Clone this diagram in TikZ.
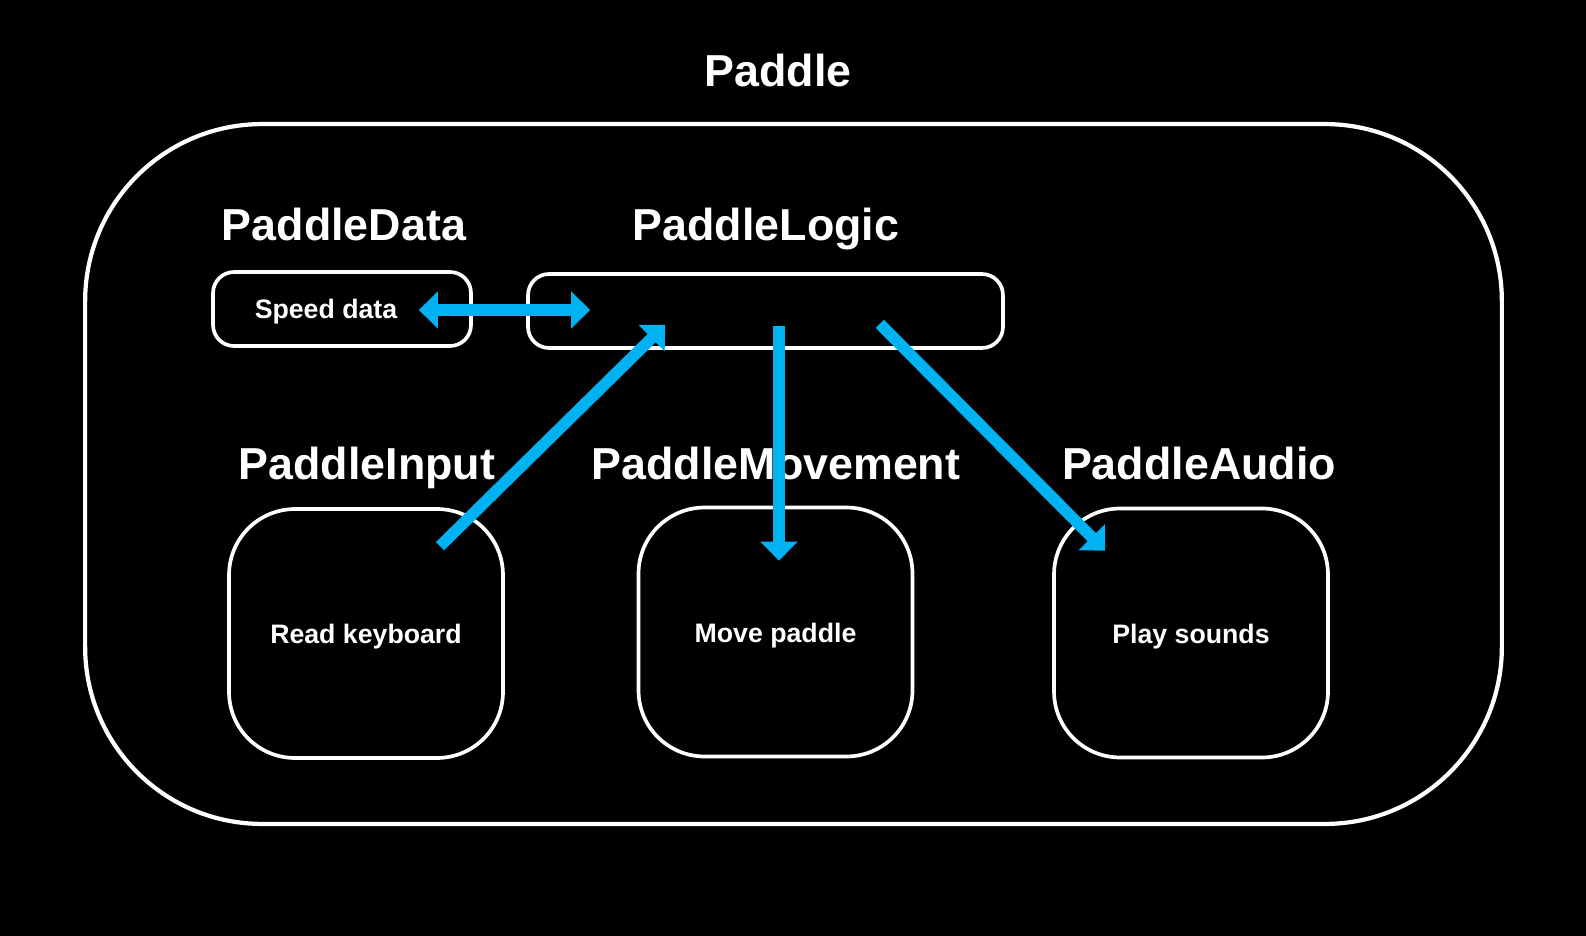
\documentclass[tikz,border=0pt]{standalone}
\usepackage{fontspec}
\setmainfont{Liberation Sans}
\usepackage{tikz}
\usetikzlibrary{arrows.meta,positioning,calc}
\definecolor{cCyan}{HTML}{00B2F2}
\definecolor{cBack}{HTML}{000000}
\definecolor{cEdge}{HTML}{FFFFFF}
\tikzset{
  grp/.style={draw=cEdge,rounded corners=3.54cm,line width=2.4pt,minimum width=28.34cm,minimum height=14cm,inner sep=0pt},
  pbox/.style={draw=cEdge,rounded corners=0.42cm,line width=2.1pt,minimum height=1.48cm,inner sep=0pt},
  mbox/.style={draw=cEdge,rounded corners=1.32cm,line width=2.1pt,minimum width=5.48cm,minimum height=4.98cm,inner sep=0pt,
    font=\fontsize{15.2}{18}\selectfont\bfseries,text=white,text height=13pt,text depth=1.5pt},
  hdr/.style={font=\fontsize{25.5}{30}\selectfont\bfseries,text=white,anchor=base,inner sep=0pt},
  lbl/.style={font=\fontsize{15.2}{18}\selectfont\bfseries,text=white,anchor=base,inner sep=0pt},
  arr/.style={-{Triangle[length=0.38cm,width=0.72cm]},line width=6.6pt,color=cCyan},
  darr/.style={{Triangle[length=0.38cm,width=0.72cm]}-{Triangle[length=0.38cm,width=0.72cm]},line width=6.6pt,color=cCyan},
}

\begin{document}
\begin{tikzpicture}[x=0.02cm,y=-0.02cm]
  \useasboundingbox (0,0) rectangle (1586,936);
  \fill[cBack] (0,0) rectangle (1586,936);
  % outer group
  \node[grp] (paddle) at (793.5,474) {};
  \node[hdr] (ttl) at (778,87) {Paddle};
  % data and logic
  \node[hdr] (hdata) at (344,240) {PaddleData};
  \node[pbox,minimum width=5.16cm] (speed) at (342,309) {};
  \node[lbl] (speedtxt) at (326,318) {Speed data};
  \node[hdr] (hlogic) at (766,240) {PaddleLogic};
  \node[pbox,minimum width=9.5cm] (logic) at (765.5,311) {};
  % modules
  \node[hdr] (hinput) at (367,479) {PaddleInput};
  \node[hdr] (hmove) at (776,479) {PaddleMovement};
  \node[hdr] (haudio) at (1199,479) {PaddleAudio};
  \node[mbox] (input) at (366,633.5) {Read keyboard};
  \node[mbox] (move) at (775.5,632) {Move paddle};
  \node[mbox] (audio) at (1191,633) {Play sounds};
  % connectors
  \draw[darr] ([shift={(-54,1)}]speed.east) -- ([shift={(64,-1)}]logic.west);
  \draw[arr] ([shift={(74,39)}]input.north) -- ([shift={(139,-25)}]logic.south west);
  \draw[arr] ([shift={(13.5,-24)}]logic.south) -- ([shift={(3.5,55)}]move.north);
  \draw[arr] ([shift={(-125,-26)}]logic.south east) -- ([shift={(53,44)}]audio.north west);
\end{tikzpicture}
\end{document}
